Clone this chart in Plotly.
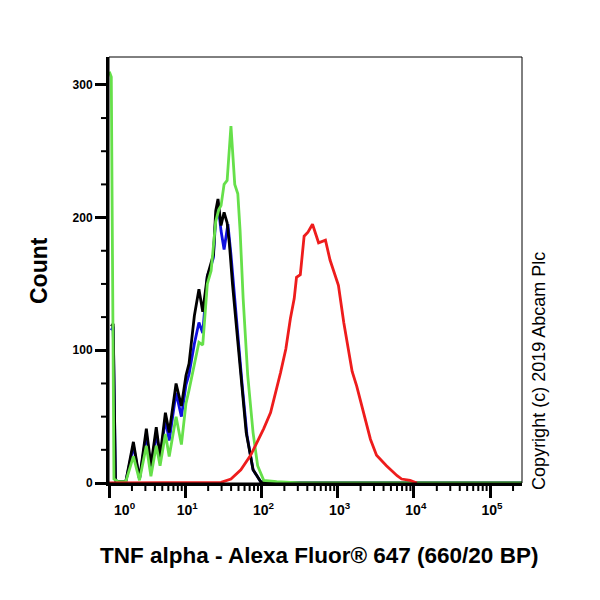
import math
import plotly.graph_objects as go

# ---- data (x as log10 of fluorescence, y as counts) ----
black_log = [0.03, 0.055, 0.085, 0.12, 0.22, 0.32, 0.40, 0.49, 0.55, 0.62, 0.67, 0.74, 0.79, 0.88, 0.95,
             1.01, 1.05, 1.12, 1.18, 1.23, 1.29, 1.33, 1.37, 1.40, 1.43, 1.47, 1.51, 1.55, 1.58, 1.62,
             1.68, 1.74, 1.80, 1.89, 1.99, 2.10, 5.42]
black_cnt = [118, 120, 2, 1, 1, 31, 3, 41, 13, 42, 20, 53, 38, 75, 58,
             81, 90, 126, 146, 129, 156, 164, 172, 205, 214, 194, 204, 196, 180, 150,
             114, 76, 38, 10, 1, 0, 0]

blue_log = [0.03, 0.055, 0.085, 0.12, 0.22, 0.32, 0.40, 0.49, 0.55, 0.62, 0.67, 0.74, 0.79, 0.88, 0.95,
            1.01, 1.05, 1.12, 1.18, 1.23, 1.29, 1.33, 1.37, 1.40, 1.43, 1.47, 1.51, 1.56, 1.60, 1.64,
            1.69, 1.75, 1.81, 1.89, 1.99, 2.10, 5.42]
blue_cnt = [115, 118, 2, 1, 1, 28, 3, 37, 10, 38, 18, 48, 32, 68, 50,
            74, 82, 105, 121, 113, 156, 162, 170, 200, 210, 190, 176, 195, 172, 145,
            108, 72, 36, 10, 1, 0, 0]

green_log = [0.005, 0.03, 0.065, 0.12, 0.22, 0.32, 0.40, 0.49, 0.55, 0.62, 0.67, 0.74, 0.79, 0.88, 0.95,
             1.01, 1.05, 1.12, 1.18, 1.23, 1.29, 1.34, 1.40, 1.44, 1.47, 1.51, 1.55, 1.60, 1.65, 1.69,
             1.72, 1.76, 1.82, 1.89, 1.95, 2.03, 2.20, 2.50, 5.42]
green_cnt = [310, 306, 3, 1, 1, 20, 2, 28, 5, 28, 13, 37, 20, 50, 29,
             60, 70, 90, 106, 104, 150, 160, 197, 206, 209, 225, 228, 269, 225, 218,
             190, 139, 81, 38, 13, 2, 1, 0, 0]

red_log = [0.0, 1.40, 1.47, 1.60, 1.73, 1.86, 1.95, 2.03, 2.12, 2.19, 2.25, 2.32, 2.38, 2.43, 2.46,
           2.51, 2.56, 2.61, 2.67, 2.75, 2.84, 2.90, 2.97, 3.01, 3.08, 3.14, 3.19, 3.25, 3.34, 3.43,
           3.51, 3.64, 3.78, 3.84, 3.95, 4.04]
red_cnt = [0, 0, 0.5, 3, 10, 21, 31, 41, 53, 68, 83, 101, 124, 139, 155,
           157, 186, 189, 195, 181, 183, 168, 155, 149, 121, 101, 84, 73, 53, 33,
           21, 13, 5.5, 3, 2, 0]

x_tick_vals = [1, 10, 100, 1000, 10000, 100000]
x_tick_text = ["&nbsp;&nbsp;&nbsp;&nbsp;&nbsp;&nbsp;&nbsp;&nbsp;10<sup>0</sup>", "&nbsp;10<sup>1</sup>",
               "&nbsp;10<sup>2</sup>", "&nbsp;10<sup>3</sup>", "&nbsp;10<sup>4</sup>", "&nbsp;10<sup>5</sup>"]
y_tick_vals = [0, 100, 200, 300]
y_minor_vals = [25, 50, 75, 125, 150, 175, 225, 250, 275]
x_max = 262144
y_max = 321

FONT = "Arial, Liberation Sans, sans-serif"

x_minor_vals = [m * 10 ** d for d in range(6) for m in range(2, 10) if m * 10 ** d <= x_max]
x_range = [0, math.log10(x_max)]

# plot-area size in pixels (for placing the small minor tick marks outside the axis lines)
L, R, T, B = 109, 78, 57, 117
PW, PH = 600 - L - R, 600 - T - B

series = [
    (blue_log, blue_cnt, "#1010e0"),
    (black_log, black_cnt, "#000000"),
    (green_log, green_cnt, "#66e04a"),
    (red_log, red_cnt, "#ee1c1c"),
]

fig = go.Figure()
for lx, cy, color in series:
    fig.add_trace(go.Scatter(
        x=[10 ** v for v in lx], y=cy, mode="lines",
        line=dict(color=color, width=2.8), showlegend=False, hoverinfo="skip"))

fig.update_layout(
    width=600, height=600,
    margin=dict(l=L, r=R, t=T, b=B),
    plot_bgcolor="white", paper_bgcolor="white",
    showlegend=False,
    xaxis=dict(
        type="log", range=x_range, showgrid=False, zeroline=False,
        showline=True, linecolor="black", linewidth=3,
        ticks="outside", ticklen=12, tickwidth=3, tickcolor="black",
        tickmode="array", tickvals=x_tick_vals, ticktext=x_tick_text,
        tickfont=dict(family=FONT, size=14, color="black", weight="bold"),
    ),
    yaxis=dict(
        range=[0, y_max], showgrid=False, zeroline=False,
        showline=True, linecolor="black", linewidth=3,
        ticks="outside", ticklen=11, tickwidth=3, tickcolor="black",
        tickmode="array", tickvals=y_tick_vals,
        tickfont=dict(family=FONT, size=12, color="black", weight="bold"),
    ),
)

# minor tick marks, positioned from the axis scales
for v in x_minor_vals:
    px = math.log10(v) / x_range[1]
    fig.add_shape(type="line", xref="paper", yref="paper", x0=px, x1=px,
                  y0=-3 / PH, y1=-8 / PH, line=dict(color="black", width=2))
for v in y_minor_vals:
    py = v / y_max
    fig.add_shape(type="line", xref="paper", yref="paper", y0=py, y1=py,
                  x0=-3 / PW, x1=-8 / PW, line=dict(color="black", width=2))

fig.add_shape(type="rect", xref="paper", yref="paper", x0=0, x1=1, y0=0, y1=1,
              line=dict(color="black", width=1), layer="above")

fig.add_annotation(text="Count", xref="paper", yref="paper", x=-0.1695, y=0.5,
                   textangle=-90, showarrow=False, xanchor="center", yanchor="middle",
                   font=dict(family=FONT, size=23, color="black", weight="bold"))
fig.add_annotation(text="TNF alpha - Alexa Fluor® 647 (660/20 BP)", xref="paper", yref="paper",
                   x=0.5085, y=-0.171, showarrow=False, xanchor="center", yanchor="middle",
                   font=dict(family=FONT, size=22.5, color="black", weight="bold"))
fig.add_annotation(text="Copyright (c) 2019 Abcam Plc", xref="paper", yref="paper",
                   x=1.041, y=0.263, textangle=-90, showarrow=False, xanchor="center", yanchor="middle",
                   font=dict(family=FONT, size=18, color="black"))

fig.write_html("out.html")
